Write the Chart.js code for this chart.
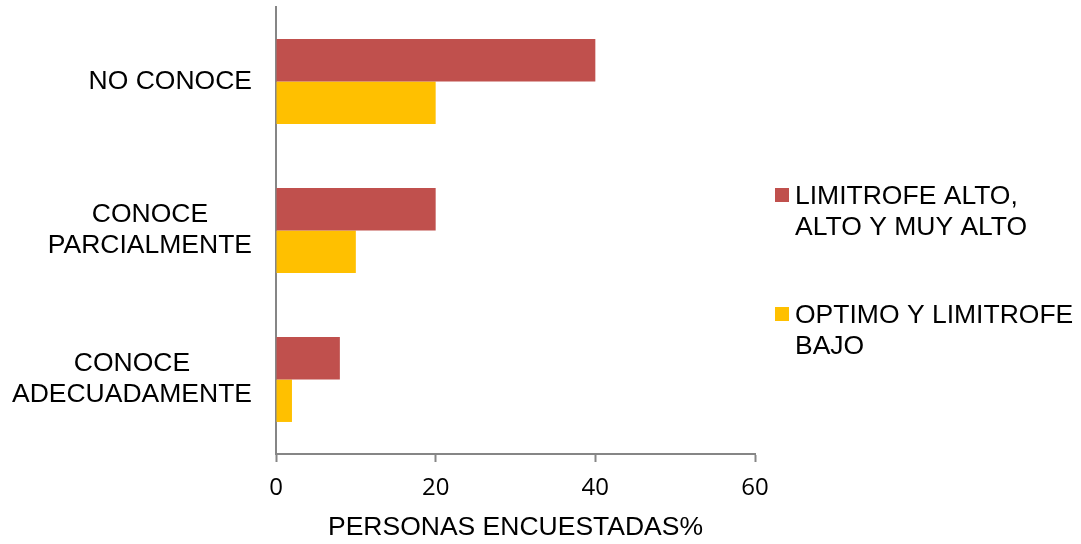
<!DOCTYPE html>
<html>
<head>
<meta charset="utf-8">
<script src="https://cdn.jsdelivr.net/npm/chart.js@4"></script>
<style>
  html, body { margin: 0; padding: 0; background: #fff; }
  #wrap { width: 1081px; height: 544px; position: relative; }
</style>
</head>
<body>
<div id="wrap"><canvas id="grafico"></canvas></div>
<script>
// categorias (de arriba hacia abajo) y series
const categorias = [["NO CONOCE"], ["CONOCE", "PARCIALMENTE"], ["CONOCE", "ADECUADAMENTE"]];
const serieAlto = [40, 20, 8];
const serieOptimo = [20, 10, 2];
const nombresSeries = ["LIMITROFE ALTO, ALTO Y MUY ALTO", "OPTIMO Y LIMITROFE BAJO"];
const leyendaLineas = [["LIMITROFE ALTO,", "ALTO Y MUY ALTO"], ["OPTIMO Y LIMITROFE", "BAJO"]];
const ticksX = [0, 20, 40, 60];
const tituloX = "PERSONAS ENCUESTADAS%";

const colores = ["#C0504D", "#FFC000"];
const fuente = "'Liberation Sans', Arial, sans-serif";

// etiquetas de categoria: bloque pegado al eje, lineas centradas entre si
const etiquetasCategoria = {
  id: "etiquetasCategoria",
  afterDraw(chart) {
    const ctx = chart.ctx;
    const escala = chart.scales.y;
    const alto = 31;
    ctx.save();
    ctx.font = "26.5px " + fuente;
    ctx.fillStyle = "#000";
    ctx.textAlign = "center";
    ctx.textBaseline = "middle";
    chart.data.labels.forEach((lineas, i) => {
      const yc = escala.getPixelForValue(i);
      const ancho = Math.max(...lineas.map(t => ctx.measureText(t).width));
      const xc = escala.right - 24 - ancho / 2;
      const y0 = yc - (lineas.length - 1) * alto / 2;
      lineas.forEach((t, j) => ctx.fillText(t, xc, y0 + j * alto));
    });
    ctx.restore();
  }
};

// leyenda a la derecha con textos en dos lineas
const leyendaDerecha = {
  id: "leyendaDerecha",
  afterDraw(chart) {
    const ctx = chart.ctx;
    const posY = [204, 323];
    ctx.save();
    ctx.font = "26.5px " + fuente;
    ctx.textBaseline = "alphabetic";
    ctx.textAlign = "left";
    leyendaLineas.forEach((lineas, i) => {
      const y = posY[i];
      ctx.fillStyle = chart.data.datasets[i].backgroundColor;
      ctx.fillRect(775, y - 16, 14, 14);
      ctx.fillStyle = "#000";
      lineas.forEach((t, j) => ctx.fillText(t, 795, y + j * 31));
    });
    ctx.restore();
  }
};

const chart = new Chart(document.getElementById("grafico"), {
  type: "bar",
  data: {
    labels: categorias,
    datasets: [
      { label: nombresSeries[0], data: serieAlto, backgroundColor: colores[0] },
      { label: nombresSeries[1], data: serieOptimo, backgroundColor: colores[1] }
    ]
  },
  options: {
    indexAxis: "y",
    responsive: true,
    maintainAspectRatio: false,
    animation: false,
    layout: { padding: { top: 7, right: 326, left: 0, bottom: 0 } },
    categoryPercentage: 0.57,
    barPercentage: 1,
    plugins: {
      legend: { display: false },
      tooltip: { enabled: false }
    },
    scales: {
      y: {
        grid: { display: false, drawTicks: false },
        border: { color: "#868686", width: 2 },
        ticks: { display: false },
        afterFit(scale) {
          scale.width = 276;
          scale.paddingTop = 0;
          scale.paddingBottom = 0;
        }
      },
      x: {
        min: 0,
        max: 60,
        afterBuildTicks(scale) { scale.ticks = ticksX.map(v => ({ value: v })); },
        grid: {
          display: true,
          drawOnChartArea: false,
          drawTicks: true,
          tickLength: 8,
          tickWidth: 2,
          tickColor: "#868686"
        },
        border: { color: "#868686", width: 2 },
        ticks: {
          color: "#000",
          padding: 12,
          font: { family: "'Open Sans', sans-serif", size: 24 }
        },
        title: {
          display: true,
          text: tituloX,
          color: "#000",
          font: { family: fuente, size: 26.5 },
          padding: { top: 8, bottom: 0 }
        },
        afterFit(scale) { scale.height = 90; }
      }
    }
  },
  plugins: [etiquetasCategoria, leyendaDerecha]
});
</script>
</body>
</html>
